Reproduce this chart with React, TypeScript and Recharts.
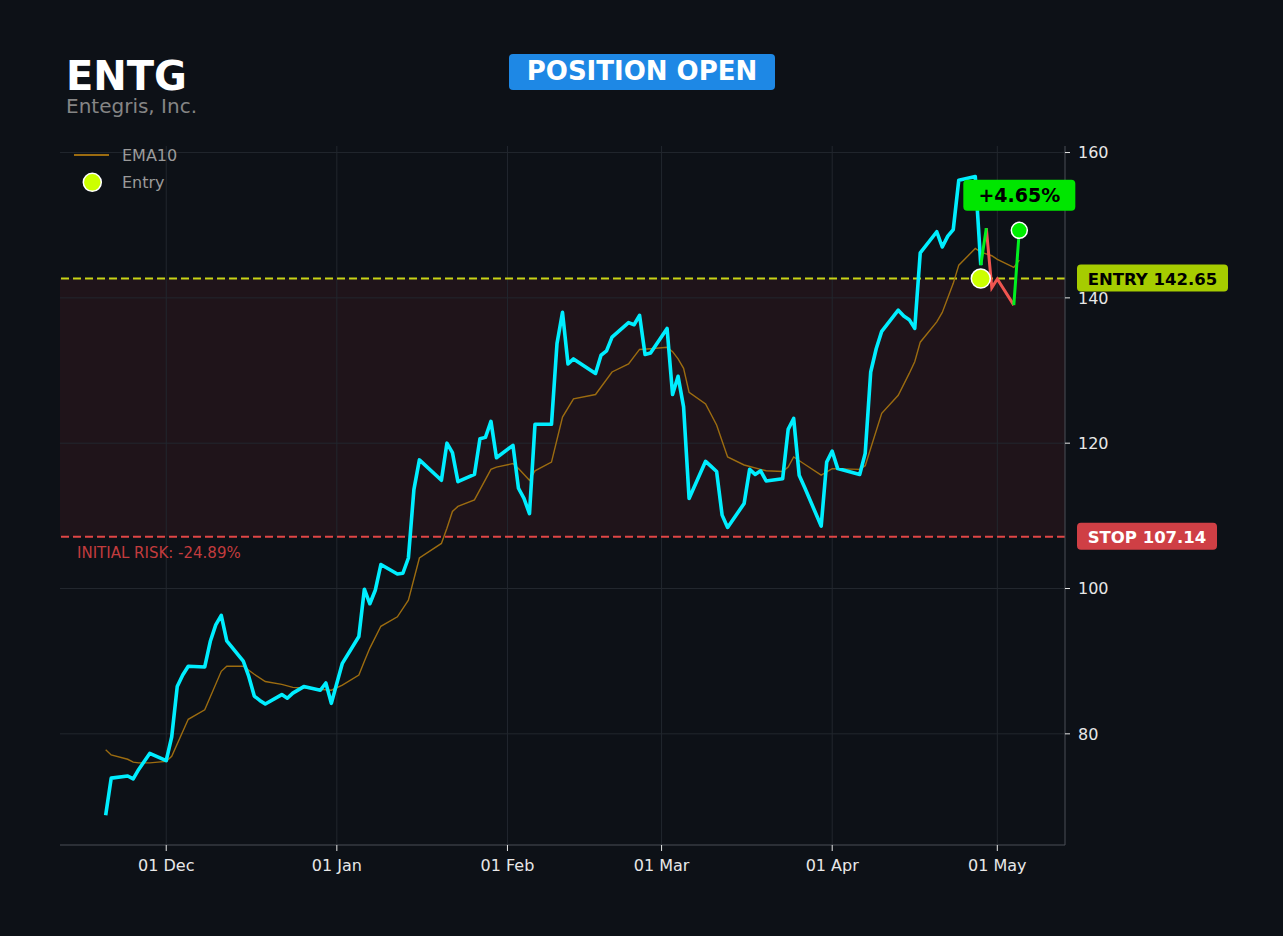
import React from 'react';
import {
  ComposedChart,
  Line,
  XAxis,
  YAxis,
  ReferenceLine,
  ReferenceArea,
  ReferenceDot,
} from 'recharts';

// ---------- data ----------
const priceDates = [
  '2025-11-20', '2025-11-21', '2025-11-24', '2025-11-25', '2025-11-26', '2025-11-28',
  '2025-12-01', '2025-12-02', '2025-12-03', '2025-12-04', '2025-12-05', '2025-12-08',
  '2025-12-09', '2025-12-10', '2025-12-11', '2025-12-12', '2025-12-15', '2025-12-16',
  '2025-12-17', '2025-12-18', '2025-12-19', '2025-12-22', '2025-12-23', '2025-12-24',
  '2025-12-26', '2025-12-29', '2025-12-30', '2025-12-31', '2026-01-02', '2026-01-05',
  '2026-01-06', '2026-01-07', '2026-01-08', '2026-01-09', '2026-01-12', '2026-01-13',
  '2026-01-14', '2026-01-15', '2026-01-16', '2026-01-20', '2026-01-21', '2026-01-22',
  '2026-01-23', '2026-01-26', '2026-01-27', '2026-01-28', '2026-01-29', '2026-01-30',
  '2026-02-02', '2026-02-03', '2026-02-04', '2026-02-05', '2026-02-06', '2026-02-09',
  '2026-02-10', '2026-02-11', '2026-02-12', '2026-02-13', '2026-02-17', '2026-02-18',
  '2026-02-19', '2026-02-20', '2026-02-23', '2026-02-24', '2026-02-25', '2026-02-26',
  '2026-02-27', '2026-03-02', '2026-03-03', '2026-03-04', '2026-03-05', '2026-03-06',
  '2026-03-09', '2026-03-10', '2026-03-11', '2026-03-12', '2026-03-13', '2026-03-16',
  '2026-03-17', '2026-03-18', '2026-03-19', '2026-03-20', '2026-03-23', '2026-03-24',
  '2026-03-25', '2026-03-26', '2026-03-27', '2026-03-30', '2026-03-31', '2026-04-01',
  '2026-04-02', '2026-04-06', '2026-04-07', '2026-04-08', '2026-04-09', '2026-04-10',
  '2026-04-13', '2026-04-14', '2026-04-15', '2026-04-16', '2026-04-17', '2026-04-20',
  '2026-04-21', '2026-04-22', '2026-04-23', '2026-04-24', '2026-04-27', '2026-04-28',
];
const priceValues = [
  68.8, 73.9, 74.2, 73.8, 75.1, 77.3,
  76.3, 79.6, 86.5, 88.1, 89.3, 89.2,
  92.7, 95.0, 96.3, 92.8, 90.0, 87.9,
  85.2, 84.6, 84.1, 85.4, 84.9, 85.6,
  86.5, 86.0, 87.0, 84.2, 89.7, 93.4,
  99.9, 97.9, 99.8, 103.3, 102.0, 102.1,
  104.2, 113.6, 117.7, 114.9, 120.0, 118.7,
  114.7, 115.7, 120.6, 120.8, 123.0, 118.0,
  119.7, 113.8, 112.4, 110.3, 122.6, 122.6,
  133.7, 138.0, 130.9, 131.6, 129.6, 132.1,
  132.7, 134.6, 136.6, 136.3, 137.6, 132.2,
  132.4, 135.8, 126.7, 129.2, 125.0, 112.4,
  117.5, 116.8, 116.1, 110.1, 108.4, 111.7,
  116.4, 115.7, 116.2, 114.8, 115.1, 121.9,
  123.4, 115.6, 113.9, 108.6, 117.4, 118.9,
  116.5, 115.7, 118.6, 129.8, 133.0, 135.4,
  138.3, 137.5, 137.0, 135.8, 146.2, 149.1,
  147.0, 148.5, 149.4, 156.2, 156.7, 144.5,
];

const emaDates = [
  '2025-11-20', '2025-11-21', '2025-11-24', '2025-11-25', '2025-11-26', '2025-11-28',
  '2025-12-01', '2025-12-02', '2025-12-05', '2025-12-08', '2025-12-11', '2025-12-12',
  '2025-12-15', '2025-12-17', '2025-12-19', '2025-12-22', '2025-12-24', '2025-12-26',
  '2025-12-31', '2026-01-02', '2026-01-05', '2026-01-06', '2026-01-07', '2026-01-09',
  '2026-01-12', '2026-01-14', '2026-01-16', '2026-01-20', '2026-01-21', '2026-01-22',
  '2026-01-23', '2026-01-26', '2026-01-29', '2026-01-30', '2026-02-02', '2026-02-03',
  '2026-02-05', '2026-02-06', '2026-02-09', '2026-02-11', '2026-02-13', '2026-02-17',
  '2026-02-20', '2026-02-23', '2026-02-25', '2026-02-27', '2026-03-02', '2026-03-03',
  '2026-03-04', '2026-03-05', '2026-03-06', '2026-03-09', '2026-03-11', '2026-03-13',
  '2026-03-16', '2026-03-19', '2026-03-20', '2026-03-23', '2026-03-24', '2026-03-25',
  '2026-03-27', '2026-03-30', '2026-04-01', '2026-04-06', '2026-04-07', '2026-04-10',
  '2026-04-13', '2026-04-15', '2026-04-16', '2026-04-17', '2026-04-20', '2026-04-21',
  '2026-04-23', '2026-04-24', '2026-04-27', '2026-04-28', '2026-04-30', '2026-05-01',
  '2026-05-04', '2026-05-05',
];
const emaValues = [
  77.8, 77.1, 76.5, 76.1, 76.0, 76.0,
  76.2, 76.9, 82.0, 83.3, 88.6, 89.3,
  89.3, 88.2, 87.2, 86.8, 86.4, 86.3,
  86.0, 86.7, 88.1, 90.0, 91.8, 94.8,
  96.1, 98.4, 104.2, 106.2, 108.3, 110.6,
  111.3, 112.2, 116.4, 116.7, 117.2, 116.5,
  114.9, 116.2, 117.4, 123.6, 126.1, 126.7,
  129.8, 130.9, 132.9, 133.0, 133.2, 132.6,
  131.6, 130.3, 127.0, 125.4, 122.5, 118.1,
  117.0, 116.4, 116.2, 116.1, 116.7, 118.1,
  117.1, 115.6, 116.5, 116.4, 116.9, 124.1,
  126.6, 129.6, 131.2, 133.9, 136.7, 138.0,
  142.0, 144.5, 146.8, 146.3, 145.8, 145.3,
  144.2, 145.2,
];

const postDates = ['2026-04-28', '2026-04-29', '2026-04-30', '2026-05-01', '2026-05-04', '2026-05-05'];
const postValues = [144.5, 149.6, 141.4, 142.6, 139.0, 149.29];

const entryDate = '2026-04-28';
const entryPrice = 142.65;
const stopPrice = 107.14;

const xTickDates = ['2025-12-01', '2026-01-01', '2026-02-01', '2026-03-01', '2026-04-01', '2026-05-01'];
const xTickLabels = ['01 Dec', '01 Jan', '01 Feb', '01 Mar', '01 Apr', '01 May'];
const yTicks = [80, 100, 120, 140, 160];
const yDomain = [64.7, 160.9];

const ticker = 'ENTG';
const companyName = 'Entegris, Inc.';
const statusText = 'POSITION OPEN';

// ---------- derived table ----------
const ts = (d: string) => Date.parse(d + 'T00:00:00Z');

const rowsMap = new Map<number, any>();
const rowFor = (d: string) => {
  const t = ts(d);
  if (!rowsMap.has(t)) rowsMap.set(t, { t });
  return rowsMap.get(t);
};
priceDates.forEach((d, i) => { rowFor(d).price = priceValues[i]; });
emaDates.forEach((d, i) => { rowFor(d).ema = emaValues[i]; });
postDates.forEach((d, i) => {
  const r = rowFor(d);
  const n = postDates.length;
  const segIn = i > 0 ? (postValues[i] >= entryPrice ? 'g' : 'r') : null;
  const segOut = i < n - 1 ? (postValues[i + 1] >= entryPrice ? 'g' : 'r') : null;
  if (segIn === 'g' || segOut === 'g') r.gain = postValues[i];
  if (segIn === 'r' || segOut === 'r') r.loss = postValues[i];
});
const data = Array.from(rowsMap.values()).sort((a, b) => a.t - b.t);

const allT = data.map((r) => r.t);
const tMin = Math.min(...allT);
const tMax = Math.max(...allT);
const tPad = (tMax - tMin) * 0.05;
const xDomain = [tMin - tPad, tMax + tPad];
const xTicks = xTickDates.map(ts);

const lastValue = postValues[postValues.length - 1];
const lastDate = postDates[postDates.length - 1];
const pnlPct = ((lastValue - entryPrice) / entryPrice) * 100;
const riskPct = ((stopPrice - entryPrice) / entryPrice) * 100;

// ---------- styles ----------
const FONT = "'DejaVu Sans', sans-serif";
const BG = '#0d1117';
const C_GRID = '#22272e';
const C_PRICE = '#00eeff';
const C_EMA = '#9c6c10';
const C_ENTRY_LINE = '#c8d416';
const C_ENTRY_BADGE = '#a6cc00';
const C_STOP = '#e04646';
const C_STOP_BADGE = '#cf3f45';
const C_GAIN = '#00f020';
const C_LOSS = '#f05550';

const EntryBadge = (props: any) => {
  const vb = props.viewBox || {};
  const x = vb.x + vb.width + 12;
  const y = vb.y;
  return (
    <g>
      <rect x={x} y={y - 14} width={151} height={27} rx={4} fill={C_ENTRY_BADGE} />
      <text x={x + 75.5} y={y + 6} textAnchor="middle" fontFamily={FONT} fontWeight="bold" fontSize={16.5} fill="#000">
        {`ENTRY ${entryPrice.toFixed(2)}`}
      </text>
    </g>
  );
};

const StopBadge = (props: any) => {
  const vb = props.viewBox || {};
  const x = vb.x + vb.width + 12;
  const y = vb.y;
  return (
    <g>
      <rect x={x} y={y - 14} width={140} height={27} rx={4} fill={C_STOP_BADGE} />
      <text x={x + 70} y={y + 6} textAnchor="middle" fontFamily={FONT} fontWeight="bold" fontSize={16.5} fill="#fff">
        {`STOP ${stopPrice.toFixed(2)}`}
      </text>
      <text x={vb.x + 17} y={y + 21} fontFamily={FONT} fontSize={15} fill="#c23c3e">
        {`INITIAL RISK: ${riskPct.toFixed(2)}%`}
      </text>
    </g>
  );
};

const LastDot = (props: any) => {
  const { cx, cy } = props;
  const by = cy - 35;
  return (
    <g>
      <rect x={cx - 56} y={by - 15.5} width={112} height={31} rx={4} fill="#00e600" />
      <text x={cx} y={by + 7} textAnchor="middle" fontFamily={FONT} fontWeight="bold" fontSize={19} fill="#000">
        {`${pnlPct >= 0 ? '+' : ''}${pnlPct.toFixed(2)}%`}
      </text>
      <circle cx={cx} cy={cy} r={8} fill="#00ee00" stroke="#ffffff" strokeWidth={1.5} />
    </g>
  );
};

export default function App() {
  return (
    <div style={{ position: 'relative', width: 1283, height: 936, background: BG, fontFamily: FONT }}>
      <style>{`body{margin:0;background:${BG};}`}</style>
      <ComposedChart
        width={1283}
        height={936}
        data={data}
        margin={{ top: 146, right: 158, bottom: 51, left: 60 }}
      >
        <XAxis
          dataKey="t"
          type="number"
          domain={xDomain}
          allowDataOverflow
          ticks={xTicks}
          tickFormatter={(v: number) => {
            const i = xTicks.indexOf(v);
            return i >= 0 ? xTickLabels[i] : '';
          }}
          height={40}
          tickSize={6}
          tickMargin={9}
          stroke="#4a4f57"
          tickLine={{ stroke: '#e6e6e6' }}
          tick={{ fill: '#e8e8e8', fontSize: 16, fontFamily: FONT }}
        />
        <YAxis
          orientation="right"
          type="number"
          domain={yDomain}
          allowDataOverflow
          ticks={yTicks}
          width={60}
          tickSize={5}
          tickMargin={8}
          stroke="#4a4f57"
          tickLine={{ stroke: '#e6e6e6' }}
          tick={{ fill: '#e8e8e8', fontSize: 16, fontFamily: FONT }}
        />
        {xTicks.map((t) => (
          <ReferenceLine key={`gx${t}`} x={t} stroke={C_GRID} strokeWidth={1} />
        ))}
        {yTicks.map((v) => (
          <ReferenceLine key={`gy${v}`} y={v} stroke={C_GRID} strokeWidth={1} />
        ))}
        <ReferenceArea y1={stopPrice} y2={entryPrice} fill="#ff4444" fillOpacity={0.08} stroke="none" />
        <ReferenceLine
          y={entryPrice}
          stroke={C_ENTRY_LINE}
          strokeWidth={2}
          strokeDasharray="8 4"
          label={(p: any) => <EntryBadge {...p} />}
        />
        <ReferenceLine
          y={stopPrice}
          stroke={C_STOP}
          strokeWidth={2}
          strokeDasharray="8 4"
          label={(p: any) => <StopBadge {...p} />}
        />
        <Line
          type="linear"
          dataKey="ema"
          stroke={C_EMA}
          strokeWidth={1.4}
          dot={false}
          activeDot={false}
          connectNulls
          isAnimationActive={false}
        />
        <Line
          type="linear"
          dataKey="price"
          stroke={C_PRICE}
          strokeWidth={3.6}
          strokeLinejoin="round"
          dot={false}
          activeDot={false}
          connectNulls
          isAnimationActive={false}
        />
        <Line
          type="linear"
          dataKey="loss"
          stroke={C_LOSS}
          strokeWidth={3}
          dot={false}
          activeDot={false}
          isAnimationActive={false}
        />
        <Line
          type="linear"
          dataKey="gain"
          stroke={C_GAIN}
          strokeWidth={3}
          dot={false}
          activeDot={false}
          isAnimationActive={false}
        />
        <ReferenceDot x={ts(entryDate)} y={entryPrice} r={9.5} fill="#ccff00" stroke="#ffffff" strokeWidth={1.5} />
        <ReferenceDot x={ts(lastDate)} y={lastValue} r={8} shape={(p: any) => <LastDot {...p} />} />
      </ComposedChart>

      <svg
        width={1283}
        height={936}
        style={{ position: 'absolute', left: 0, top: 0, pointerEvents: 'none' }}
      >
        <text x={66} y={90} fontFamily={FONT} fontWeight="bold" fontSize={40} fill="#ffffff">{ticker}</text>
        <text x={66} y={113} fontFamily={FONT} fontSize={20} fill="#858585">{companyName}</text>
        <rect x={509} y={54} width={266} height={36} rx={4} fill="#1e88e5" />
        <text x={642} y={80} textAnchor="middle" fontFamily={FONT} fontWeight="bold" fontSize={26} fill="#ffffff">{statusText}</text>
        <line x1={74} x2={109} y1={155} y2={155} stroke={C_EMA} strokeWidth={2} />
        <text x={122} y={161} fontFamily={FONT} fontSize={16} fill="#9a9a9a">EMA10</text>
        <circle cx={92.3} cy={182.3} r={9} fill="#ccff00" stroke="#ffffff" strokeWidth={1.5} />
        <text x={122} y={188} fontFamily={FONT} fontSize={16} fill="#9a9a9a">Entry</text>
      </svg>
    </div>
  );
}
